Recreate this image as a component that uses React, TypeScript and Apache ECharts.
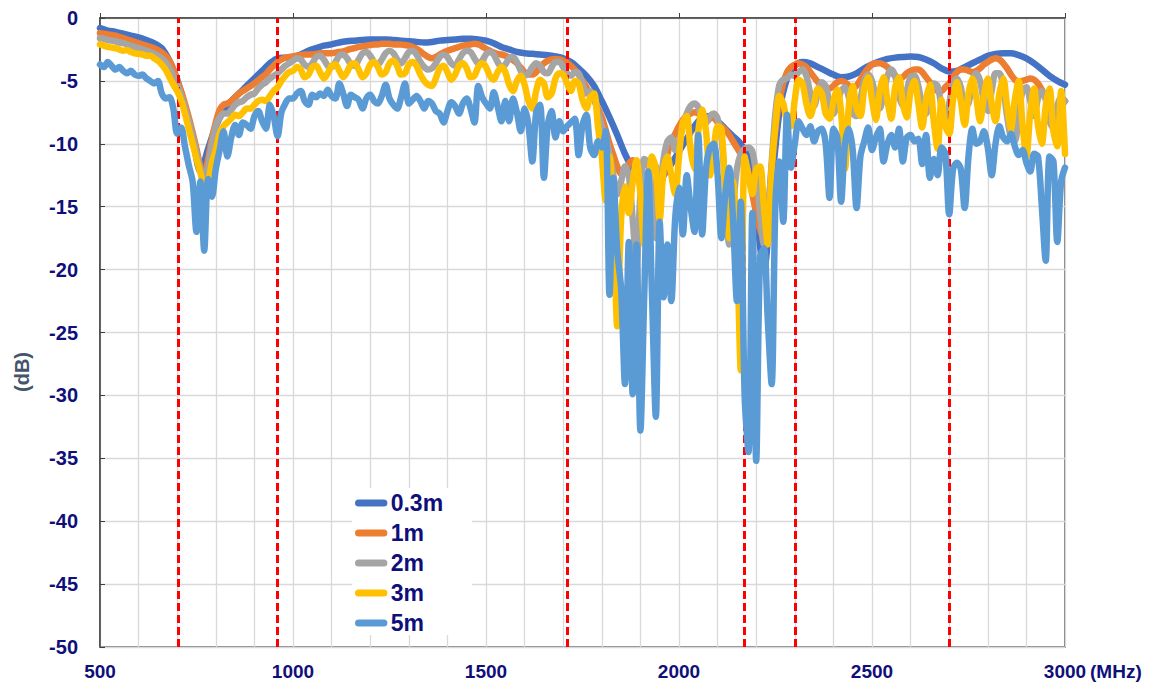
import React, { useEffect, useRef } from "react";
import * as echarts from "echarts";

// ---- data ----
const SERIES_NAMES = ["0.3m", "1m", "2m", "3m", "5m"];
const SERIES_COLORS = ["#4472C4", "#ED7D31", "#A5A5A5", "#FFC000", "#5B9BD5"];
const X_TICKS = [500, 1000, 1500, 2000, 2500, 3000];
const Y_TICKS = [0, -5, -10, -15, -20, -25, -30, -35, -40, -45, -50];
const BAND_EDGES = [703, 960, 1710, 2170, 2300, 2700];

// 0.3m: sampled every 20 MHz from 500 MHz
const F_START = 500;
const STEP_03 = 20;
const D_03M = [
  -0.8, -1.0, -1.1, -1.25, -1.4, -1.55, -1.75, -2.0, -2.4, -3.4,
  -4.9, -7.0, -9.5, -12.2, -10.4, -8.6, -7.4, -6.6, -6.0, -5.4,
  -4.8, -4.2, -3.6, -3.2, -3.15, -3.1, -2.9, -2.6, -2.4, -2.2,
  -2.1, -1.95, -1.85, -1.8, -1.75, -1.7, -1.7, -1.7, -1.75, -1.8,
  -1.85, -1.9, -1.95, -1.9, -1.8, -1.75, -1.7, -1.65, -1.65, -1.7,
  -1.8, -2.0, -2.3, -2.5, -2.7, -2.8, -2.85, -2.9, -2.95, -3.05,
  -3.2, -3.5, -4.0, -4.6, -5.4, -6.6, -7.9, -9.3, -10.8, -12.0,
  -13.0, -13.5, -13.2, -12.5, -11.6, -10.6, -9.6, -8.6, -7.9, -7.8,
  -8.2, -8.8, -9.4, -10.0, -11.2, -15.5, -20.0, -13.5, -7.5, -4.8,
  -3.8, -3.5, -3.6, -3.9, -4.2, -4.5, -4.7, -4.65, -4.4, -4.0,
  -3.7, -3.45, -3.25, -3.15, -3.1, -3.07, -3.1, -3.3, -3.6, -4.0,
  -4.25, -4.2, -3.9, -3.6, -3.3, -3.0, -2.85, -2.8, -2.8, -2.95,
  -3.2, -3.6, -4.1, -4.6, -5.0, -5.3,
];

// other series: sampled every 10 MHz from 500 MHz
const STEP = 10;
const D_1M = [
  -1.2, -1.25, -1.3, -1.35, -1.4, -1.5, -1.6, -1.7, -1.8, -1.9,
  -2.0, -2.1, -2.2, -2.3, -2.4, -2.55, -2.75, -3.0, -3.4, -4.1,
  -5.0, -5.8, -6.8, -7.9, -9.1, -10.4, -11.8, -12.4, -11.2, -9.6,
  -8.3, -7.3, -6.9, -6.8, -6.6, -6.3, -6.0, -5.8, -5.6, -5.4,
  -5.2, -4.95, -4.7, -4.45, -4.1, -3.8, -3.5, -3.3, -3.15, -3.1,
  -3.05, -3.0, -2.95, -2.9, -2.9, -2.9, -2.85, -2.8, -2.8, -2.8,
  -2.8, -2.75, -2.7, -2.65, -2.55, -2.45, -2.4, -2.3, -2.25, -2.2,
  -2.15, -2.1, -2.1, -2.05, -2.05, -2.05, -2.1, -2.1, -2.1, -2.15,
  -2.2, -2.3, -2.45, -2.65, -2.9, -3.1, -3.2, -3.1, -2.9, -2.75,
  -2.6, -2.5, -2.4, -2.3, -2.2, -2.15, -2.1, -2.05, -2.1, -2.25,
  -2.45, -2.6, -2.75, -2.85, -2.9, -3.0, -3.15, -3.35, -3.6, -3.95,
  -4.3, -4.5, -4.5, -4.3, -3.9, -3.6, -3.4, -3.3, -3.25, -3.3,
  -3.4, -3.55, -3.8, -4.1, -4.5, -5.0, -5.5, -6.0, -6.5, -7.2,
  -7.9, -8.9, -10.0, -10.9, -11.8, -12.4, -12.3, -11.6, -11.3, -11.8,
  -13.5, -15.0, -13.0, -11.6, -11.8, -13.5, -12.5, -10.8, -9.8, -9.2,
  -8.6, -8.1, -7.8, -7.6, -7.5, -7.6, -7.9, -8.3, -8.0, -7.9,
  -8.3, -8.6, -8.9, -9.3, -9.8, -10.3, -10.8, -11.3, -12.3, -14.0,
  -15.5, -16.8, -17.6, -15.5, -12.0, -8.8, -6.6, -5.2, -4.3, -3.9,
  -3.7, -3.6, -3.7, -3.9, -4.3, -4.7, -5.1, -5.4, -5.6, -5.6,
  -5.4, -5.1, -5.0, -5.1, -5.4, -5.6, -5.4, -4.9, -4.4, -4.0,
  -3.7, -3.6, -3.6, -3.7, -3.9, -4.3, -4.6, -4.8, -4.7, -4.4,
  -4.2, -4.1, -4.1, -4.3, -4.7, -5.1, -5.5, -5.8, -5.8, -5.5,
  -5.2, -4.7, -4.3, -4.1, -4.1, -4.2, -4.3, -4.2, -4.0, -3.7,
  -3.5, -3.3, -3.2, -3.3, -3.6, -4.0, -4.5, -4.9, -5.1, -5.0,
  -4.9, -4.8, -4.9, -5.2, -5.7, -6.3, -6.9, -7.3, -7.3, -7.0,
  -6.6,
];
const D_2M = [
  -1.6, -1.65, -1.75, -1.8, -1.85, -1.95, -2.0, -2.1, -2.2, -2.3,
  -2.4, -2.5, -2.6, -2.7, -2.85, -3.0, -3.2, -3.5, -4.0, -4.6,
  -5.3, -6.1, -7.1, -8.2, -9.4, -10.7, -12.0, -12.8, -11.8, -10.0,
  -8.6, -7.9, -7.6, -7.6, -7.3, -6.9, -6.7, -6.6, -6.3, -6.1,
  -6.0, -5.6, -5.3, -5.1, -4.8, -4.6, -4.4, -4.1, -3.8, -3.6,
  -3.4, -3.2, -3.3, -3.7, -3.9, -3.6, -3.1, -3.0, -3.3, -3.8,
  -3.9, -3.5, -3.0, -2.9, -3.2, -3.7, -3.8, -3.3, -2.8, -2.7,
  -3.0, -3.5, -3.7, -3.3, -2.8, -2.6, -2.8, -3.3, -3.6, -3.2,
  -2.7, -2.6, -2.9, -3.5, -3.9, -4.1, -4.0, -3.6, -3.1, -2.9,
  -3.1, -3.6, -3.8, -3.3, -2.8, -2.6, -2.7, -3.2, -3.6, -3.4,
  -2.9, -2.7, -2.9, -3.5, -3.9, -3.7, -3.2, -3.1, -3.5, -4.2,
  -4.6, -4.4, -3.9, -3.6, -3.8, -4.3, -4.4, -3.9, -3.5, -3.5,
  -3.9, -4.4, -4.6, -4.3, -4.4, -5.2, -6.0, -5.8, -6.4, -7.5,
  -8.6, -9.5, -10.8, -12.5, -14.0, -13.0, -11.8, -12.5, -16.0, -19.5,
  -14.0, -11.2, -11.5, -14.0, -17.5, -14.0, -11.2, -9.8, -9.5, -10.5,
  -9.8, -8.6, -7.6, -7.0, -6.8, -7.1, -8.0, -8.3, -7.8, -7.6,
  -8.0, -9.5, -13.5, -18.0, -15.0, -12.0, -10.8, -10.4, -10.3, -10.6,
  -12.5, -15.5, -18.0, -16.0, -11.5, -7.5, -5.3, -4.9, -4.8, -4.5,
  -4.6, -4.3, -4.1, -4.6, -6.0, -7.0, -5.9, -5.1, -5.4, -6.8,
  -7.6, -6.8, -5.8, -5.5, -6.3, -7.6, -7.8, -6.5, -5.0, -4.5,
  -5.0, -6.4, -7.2, -6.0, -4.6, -4.1, -4.6, -6.2, -7.0, -5.8,
  -4.7, -4.6, -5.4, -7.0, -7.6, -6.3, -5.2, -5.4, -7.0, -8.0,
  -6.8, -5.2, -4.8, -5.5, -7.0, -6.8, -5.0, -4.4, -5.0, -6.6,
  -7.4, -5.8, -4.4, -4.4, -5.6, -7.8, -9.5, -9.8, -7.6, -5.8,
  -5.5, -6.6, -7.8, -6.4, -5.8, -6.5, -8.2, -8.8, -7.0, -6.3,
  -6.6,
];
const D_3M = [
  -2.1, -2.2, -2.3, -2.35, -2.4, -2.5, -2.6, -2.55, -2.7, -2.8,
  -2.85, -2.9, -3.0, -3.0, -3.2, -3.4, -3.7, -4.1, -4.7, -5.3,
  -5.8, -6.5, -7.6, -8.8, -10.0, -11.2, -12.3, -13.2, -13.0, -11.5,
  -10.5, -9.2, -8.6, -8.3, -8.0, -7.7, -7.8, -7.5, -7.2, -7.2,
  -6.9, -6.6, -6.5, -6.6, -6.2, -5.8, -5.5, -5.0, -4.6, -4.3,
  -4.2, -3.9, -4.1, -4.7, -4.5, -3.9, -3.8, -4.3, -4.8, -4.4,
  -3.8, -3.7, -4.2, -4.7, -4.3, -3.7, -3.6, -4.1, -4.7, -4.4,
  -3.7, -3.5, -3.9, -4.5, -4.3, -3.6, -3.4, -3.8, -4.5, -4.4,
  -3.7, -3.5, -3.8, -4.5, -5.0, -5.3, -5.4, -4.8, -4.0, -3.8,
  -4.3, -4.9, -4.5, -3.8, -3.6, -4.0, -4.7, -4.6, -3.9, -3.6,
  -3.9, -4.6, -4.9, -4.3, -3.9, -4.3, -5.3, -5.8, -5.0, -4.6,
  -5.3, -6.6, -7.2, -5.8, -4.9, -5.2, -6.3, -6.0, -4.8, -4.4,
  -4.5, -5.2, -5.8, -5.0, -5.2, -6.5, -7.2, -6.3, -6.0, -8.6,
  -11.0, -14.5, -11.0, -15.5, -24.5, -16.0, -13.4, -15.5, -13.0, -11.3,
  -14.0, -18.0, -14.0, -11.0, -12.0, -16.0, -12.0, -11.0, -12.5, -14.0,
  -11.0, -8.3, -7.8, -10.5, -12.0, -9.0, -7.3, -9.0, -12.5, -10.5,
  -8.6, -8.8, -14.0, -17.5, -13.0, -18.0, -28.0, -11.0, -12.5, -14.0,
  -12.0, -11.8, -15.0, -18.0, -12.0, -8.5, -6.2, -6.8, -8.2, -8.6,
  -6.5, -4.9, -5.2, -6.8, -7.8, -6.8, -5.6, -6.0, -7.6, -8.0,
  -6.6, -5.7, -7.5, -12.0, -7.0, -5.4, -7.2, -7.8, -5.6, -4.7,
  -6.5, -8.1, -5.8, -4.7, -6.6, -8.0, -5.5, -4.7, -6.8, -7.9,
  -5.8, -5.0, -6.8, -8.7, -6.5, -5.3, -8.2, -10.4, -6.5, -8.6,
  -9.2, -6.5, -5.1, -6.6, -8.5, -6.0, -4.8, -6.3, -8.2, -6.2,
  -4.8, -6.8, -8.2, -6.0, -4.8, -7.0, -8.8, -6.5, -5.0, -8.5,
  -11.0, -7.5, -5.6, -8.5, -10.0, -7.0, -5.6, -9.0, -10.2, -5.8,
  -10.8,
];
const D_5M = [
  -3.7, -3.9, -3.5, -3.8, -4.1, -3.9, -4.2, -4.4, -4.2, -4.5,
  -4.6, -4.5, -4.8, -5.0, -5.2, -5.0, -6.0, -6.4, -6.3, -7.2,
  -9.2, -8.7, -10.2, -11.7, -13.0, -17.0, -13.0, -18.5, -12.8, -14.2,
  -12.0, -10.5, -9.0, -11.0, -9.5, -8.5, -9.3, -8.3, -8.5, -8.8,
  -7.8, -7.4, -8.2, -8.8, -6.9, -7.8, -9.4, -7.5, -6.8, -6.4,
  -6.4, -6.0, -5.8, -6.6, -6.9, -6.1, -6.3, -6.0, -6.2, -5.7,
  -6.2, -6.4, -5.2, -6.0, -7.0, -6.1, -6.3, -6.5, -7.2, -6.4,
  -6.1, -6.6, -6.8, -6.2, -5.3, -6.4, -6.9, -7.2, -6.3, -5.2,
  -6.8, -6.5, -6.2, -6.6, -7.2, -6.6, -6.8, -7.4, -7.6, -8.3,
  -7.4, -6.7, -7.0, -7.6, -6.8, -6.4, -7.2, -8.3, -5.4, -6.3,
  -6.8, -7.2, -5.9, -7.0, -8.2, -6.6, -8.2, -6.4, -7.5, -9.0,
  -7.2, -8.5, -11.4, -7.5, -6.9, -12.7, -8.5, -7.4, -9.5, -8.2,
  -9.0, -8.6, -8.3, -8.0, -10.9, -8.5, -7.7, -10.3, -10.9, -9.8,
  -10.3, -9.0, -22.0, -12.7, -18.5, -21.5, -29.1, -17.8, -29.9, -18.0,
  -32.8, -22.0, -12.2, -22.0, -31.7, -16.2, -22.2, -18.0, -22.5, -16.0,
  -13.5, -17.2, -12.5, -15.0, -17.0, -9.3, -17.2, -12.0, -10.3, -10.0,
  -12.5, -17.5, -14.0, -11.9, -16.0, -22.5, -14.6, -30.0, -34.5, -15.5,
  -35.2, -19.0, -18.3, -24.0, -29.1, -14.6, -11.4, -16.2, -7.7, -11.9,
  -10.0, -8.2, -8.8, -9.3, -8.6, -9.8, -9.0, -8.8, -10.0, -14.3,
  -8.8, -9.5, -14.6, -10.0, -8.8, -10.5, -15.1, -11.0, -9.8, -8.7,
  -10.5, -9.5, -8.8, -11.4, -10.0, -9.3, -10.3, -8.8, -11.4, -9.5,
  -9.3, -9.8, -9.6, -11.6, -9.3, -12.7, -11.2, -12.5, -10.3, -10.8,
  -15.6, -12.0, -11.5, -12.0, -15.1, -11.0, -8.8, -10.0, -9.8, -9.0,
  -10.3, -12.5, -10.0, -8.6, -9.5, -9.8, -9.2, -10.2, -10.9, -10.5,
  -11.5, -12.2, -10.8, -11.0, -15.0, -19.3, -11.0, -11.4, -17.8, -13.0,
  -11.9,
];

const SERIES_DATA = [
  { vals: D_03M, step: STEP_03 },
  { vals: D_1M, step: STEP },
  { vals: D_2M, step: STEP },
  { vals: D_3M, step: STEP },
  { vals: D_5M, step: STEP },
];

const FONT = '"Liberation Sans", Arial, sans-serif';
const NAVY = "#0F0F7A";
const GRID_COLOR = "#D9D9D9";

export default function App() {
  const ref = useRef<HTMLDivElement>(null);
  useEffect(() => {
    if (!ref.current) return;
    const chart = echarts.init(ref.current, undefined, { renderer: "svg" });
    const lineSeries: any[] = SERIES_DATA.map((s, k) => ({
      name: SERIES_NAMES[k],
      type: "line",
      data: s.vals.map((v, i) => [F_START + i * s.step, v]),
      showSymbol: false,
      symbol: "none",
      smooth: 0.3,
      color: SERIES_COLORS[k],
      itemStyle: { color: SERIES_COLORS[k] },
      lineStyle: { width: 6.5, color: SERIES_COLORS[k], cap: "round", join: "round" },
      z: 2 + k,
      silent: true,
    }));
    lineSeries.push({
      name: "bands",
      type: "line",
      data: [],
      z: 20,
      silent: true,
      markLine: {
        silent: true,
        symbol: ["none", "none"],
        label: { show: false },
        lineStyle: { color: "#FF0000", type: [8, 4], width: 3 },
        data: BAND_EDGES.map((f) => ({ xAxis: f })),
      },
    });
    chart.setOption({
      animation: false,
      backgroundColor: "#ffffff",
      grid: {
        left: 100,
        right: 87,
        top: 18,
        bottom: 44,
        show: true,
        borderColor: "#595959",
        borderWidth: 1.5,
      },
      legend: {
        data: SERIES_NAMES,
        orient: "vertical",
        left: 352,
        top: 488,
        padding: [3, 29, 0, 3],
        backgroundColor: "#ffffff",
        itemWidth: 37,
        itemHeight: 7,
        itemGap: 6,
        icon: "path://M4,0L33,0A4,4,0,0,1,33,8L4,8A4,4,0,0,1,4,0Z",
        textStyle: {
          color: NAVY,
          fontFamily: FONT,
          fontWeight: "bold",
          fontSize: 23,
          lineHeight: 24,
          padding: [0, 0, 0, -4],
        },
        z: 30,
      },
      xAxis: {
        type: "value",
        min: X_TICKS[0],
        max: X_TICKS[X_TICKS.length - 1],
        interval: X_TICKS[1] - X_TICKS[0],
        axisLine: { show: true, lineStyle: { color: "#404040", width: 1.5 } },
        axisTick: { show: true, inside: true, length: 5, lineStyle: { color: "#404040" } },
        minorTick: { show: false, splitNumber: 5 },
        splitLine: { show: true, lineStyle: { color: GRID_COLOR, width: 1.3 } },
        minorSplitLine: { show: true, lineStyle: { color: GRID_COLOR, width: 1.3 } },
        axisLabel: {
          color: NAVY,
          fontFamily: FONT,
          fontWeight: "bold",
          fontSize: 19,
          margin: 15,
          formatter: (v: number) => String(v),
        },
      },
      yAxis: {
        type: "value",
        min: Y_TICKS[Y_TICKS.length - 1],
        max: Y_TICKS[0],
        interval: 5,
        axisLine: { show: true, lineStyle: { color: "#404040", width: 1.5 } },
        axisTick: { show: true, inside: true, length: 5, lineStyle: { color: "#404040" } },
        splitLine: { show: true, lineStyle: { color: GRID_COLOR, width: 1.3 } },
        axisLabel: {
          color: NAVY,
          fontFamily: FONT,
          fontWeight: "bold",
          fontSize: 20,
          margin: 22,
          formatter: (v: number) => String(v),
        },
      },
      graphic: [
        {
          type: "text",
          x: 22,
          y: 372,
          rotation: Math.PI / 2,
          style: {
            text: "(dB)",
            fill: "#44546A",
            font: `bold 20px ${FONT}`,
            textAlign: "center",
            textVerticalAlign: "middle",
          },
        },
        {
          type: "text",
          x: 1090,
          y: 671,
          style: {
            text: "(MHz)",
            fill: NAVY,
            font: `bold 19px ${FONT}`,
            textAlign: "left",
            textVerticalAlign: "middle",
          },
        },
      ],
      series: lineSeries,
    });
    return () => chart.dispose();
  }, []);
  return (
    <div
      ref={ref}
      style={{ position: "fixed", left: 0, top: 0, width: 1152, height: 691, background: "#fff" }}
    />
  );
}
